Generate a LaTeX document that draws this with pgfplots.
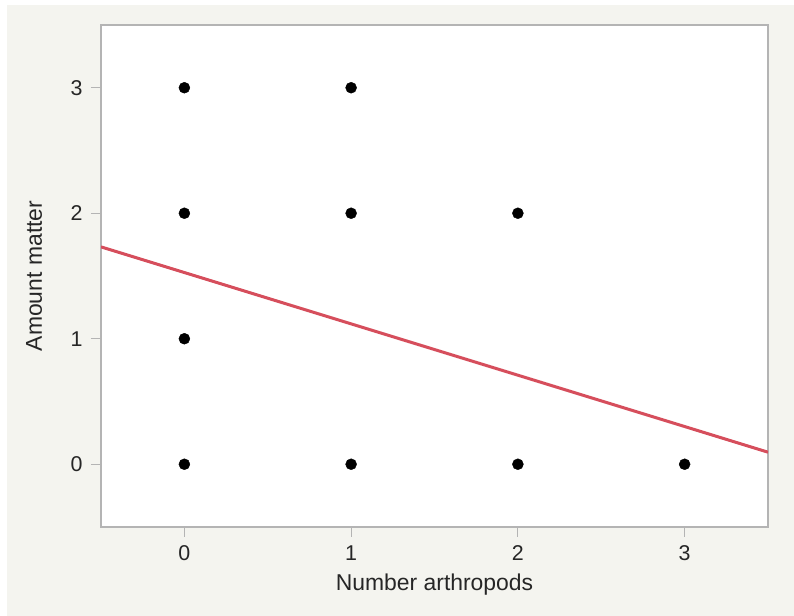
\documentclass[border=0pt]{standalone}
\usepackage{pgfplots}
\pgfplotsset{compat=1.18}
\usepackage{fontspec}
\setmainfont{Liberation Sans}
\definecolor{bgbeige}{RGB}{244,244,239}
\definecolor{fitred}{RGB}{214,78,92}
\definecolor{framegray}{RGB}{180,180,180}

\begin{document}
\begin{tikzpicture}[x=1bp,y=1bp]
% page background
\fill[white] (0,0) rectangle (794,616);
\fill[bgbeige] (7,0) rectangle (794,611);
\begin{axis}[
    at={(101bp,89bp)}, anchor=south west,
    scale only axis, width=667bp, height=502bp,
    xmin=-0.5, xmax=3.5, ymin=-0.5, ymax=3.5,
    xtick={0,1,2,3}, ytick={0,1,2,3},
    axis background/.style={fill=white},
    axis line style={framegray, line width=1.5bp},
    tick style={framegray, line width=1.2bp},
    tick align=outside, major tick length=10bp,
    xtick pos=bottom, ytick pos=left,
    ticklabel style={font=\fontsize{21.5}{24}\selectfont, text=black!85},
    xticklabel style={yshift=-5bp},
    yticklabel style={xshift=-5bp},
    /pgf/number format/assume math mode=true,
    xlabel={Number arthropods}, ylabel={Amount matter},
    label style={font=\fontsize{23}{26}\selectfont, text=black!85},
    xlabel style={at={([yshift=-64bp]axis description cs:0.5,0)}, anchor=base},
    ylabel style={at={([xshift=-59bp]axis description cs:0,0.5)}, anchor=base},
]
\addplot[only marks, mark=*, mark size=5.5bp, black] coordinates {
    (0,3) (1,3)
    (0,2) (1,2) (2,2)
    (0,1)
    (0,0) (1,0) (2,0) (3,0)
};
% fitted line
\addplot[fitred, line width=3bp] coordinates {(-0.5,1.732) (3.5,0.096)};
\end{axis}
\end{tikzpicture}
\end{document}
